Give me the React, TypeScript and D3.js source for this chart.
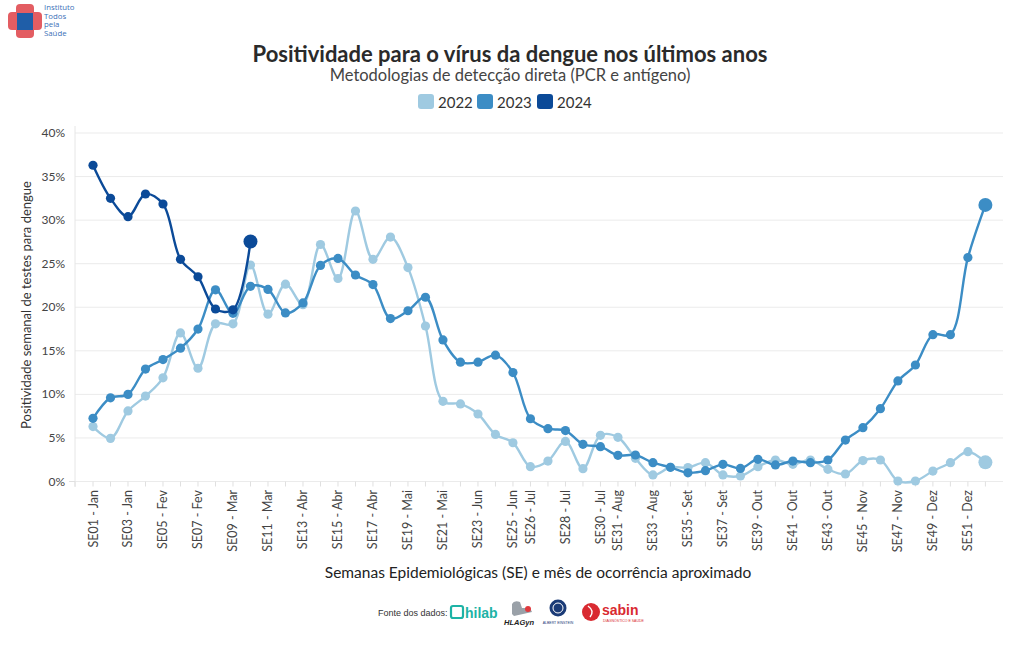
import React from "react";
import * as d3 from "d3";

const weeks: number[] = Array.from({ length: 52 }, (_, i) => i + 1);

const values2022: number[] = [6.3, 4.95, 8.1, 9.8, 11.9, 17.05, 13.0, 18.1, 18.1, 24.85, 19.2, 22.65, 20.3, 27.2, 23.3, 31.05, 25.5, 28.05, 24.55, 17.85, 9.2, 8.9, 7.75, 5.4, 4.45, 1.7, 2.35, 4.6, 1.47, 5.3, 5.07, 2.66, 0.75, 1.63, 1.6, 2.16, 0.75, 0.63, 1.7, 2.47, 1.97, 2.47, 1.4, 0.86, 2.4, 2.47, 0.06, 0.06, 1.2, 2.16, 3.42, 2.2];
const values2023: number[] = [7.25, 9.6, 10.0, 12.9, 14.0, 15.3, 17.5, 22.0, 19.3, 22.4, 22.05, 19.35, 20.5, 24.8, 25.6, 23.7, 22.6, 18.7, 19.6, 21.15, 16.25, 13.7, 13.7, 14.5, 12.5, 7.2, 6.06, 5.85, 4.27, 4.0, 3.0, 3.04, 2.16, 1.63, 1.0, 1.24, 1.97, 1.5, 2.55, 1.9, 2.35, 2.16, 2.47, 4.76, 6.18, 8.36, 11.54, 13.37, 16.85, 16.85, 25.7, 31.75];
const values2024: number[] = [36.3, 32.5, 30.4, 33.0, 31.85, 25.5, 23.5, 19.8, 19.7, 27.55];

const tickWeeks: number[] = [1, 3, 5, 7, 9, 11, 13, 15, 17, 19, 21, 23, 25, 26, 28, 30, 31, 33, 35, 37, 39, 41, 43, 45, 47, 49, 51];
const tickLabels: string[] = ["SE01 - Jan", "SE03 - Jan", "SE05 - Fev", "SE07 - Fev", "SE09 - Mar", "SE11 - Mar", "SE13 - Abr", "SE15 - Abr", "SE17 - Abr", "SE19 - Mai", "SE21 - Mai", "SE23 - Jun", "SE25 - Jun", "SE26 - Jul", "SE28 - Jul", "SE30 - Jul", "SE31 - Aug", "SE33 - Aug", "SE35 - Set", "SE37 - Set", "SE39 - Out", "SE41 - Out", "SE43 - Out", "SE45 - Nov", "SE47 - Nov", "SE49 - Dez", "SE51 - Dez"];
const yTicks: number[] = [0, 5, 10, 15, 20, 25, 30, 35, 40];

const seriesNames: string[] = ["2022", "2023", "2024"];
const seriesColors: string[] = ["#9fcae1", "#3c8dc5", "#0b4a98"];
const logoLines: string[] = ["Instituto", "Todos", "pela", "Saúde"];

const FONT = "Lato, 'Source Sans Pro', sans-serif";

export default function App() {
  const W = 1020, H = 650;
  const x = d3.scaleLinear().domain([1, 52]).range([93, 985.4]);
  const y = d3.scaleLinear().domain([0, 40]).range([481.5, 133]);
  const plotLeft = 75, plotRight = 1003;

  const series = [values2022, values2023, values2024];
  const line = d3
    .line<number>()
    .x((_, i) => x(weeks[i]))
    .y((d) => y(d))
    .curve(d3.curveCatmullRom.alpha(0.5));

  const legendX = [418, 477, 537];

  return (
    <svg width={W} height={H} style={{ position: "absolute", left: 0, top: 0, background: "#fff" }} fontFamily={FONT}>
      {/* logo */}
      <g>
        <rect x={16} y={4} width={18} height={34} rx={4} fill="#e35d62" />
        <rect x={8} y={12} width={34} height={18} rx={4} fill="#e35d62" />
        <rect x={17} y={13} width={16} height={17} fill="#1f5ea8" />
        {logoLines.map((t, i) => (
          <text key={t} x={44} y={10 + i * 8.6} fontSize={7.8} fill="#3a70b8" fontFamily="'Open Sans', sans-serif">{t}</text>
        ))}
      </g>

      {/* title */}
      <text x={510} y={62} textAnchor="middle" fontSize={22} fontWeight={700} fill="#2a2a2a">Positividade para o vírus da dengue nos últimos anos</text>
      <text x={510} y={81} textAnchor="middle" fontSize={16.5} fill="#444">Metodologias de detecção direta (PCR e antígeno)</text>

      {/* legend */}
      {seriesNames.map((n, i) => (
        <g key={n}>
          <rect x={legendX[i]} y={94} width={16} height={15} rx={3} fill={seriesColors[i]} />
          <text x={legendX[i] + 20} y={107.5} fontSize={15} fill="#333">{n}</text>
        </g>
      ))}

      {/* grid */}
      {yTicks.map((t) => (
        <g key={t}>
          <line x1={plotLeft} x2={plotRight} y1={y(t)} y2={y(t)} stroke="#ebebeb" strokeWidth={1} />
          <text x={65} y={y(t) + 4} textAnchor="end" fontSize={12} fill="#444">{t}%</text>
        </g>
      ))}
      <line x1={plotLeft} x2={plotLeft} y1={126} y2={487} stroke="#e6e6e6" strokeWidth={1} />
      <line x1={69} x2={plotLeft} y1={y(0)} y2={y(0)} stroke="#e0e0e0" strokeWidth={1} />
      <line x1={plotLeft} x2={plotLeft} y1={y(0)} y2={y(0) + 5} stroke="#e0e0e0" />
      {weeks.map((w) => (
        <line key={w} x1={x(w)} x2={x(w)} y1={y(0)} y2={y(0) + 5} stroke="#e0e0e0" strokeWidth={1} />
      ))}

      {/* x tick labels */}
      {tickWeeks.map((w, i) => (
        <text key={w} transform={`translate(${x(w) + 4.5},${490}) rotate(-90)`} textAnchor="end" fontSize={12.5} fill="#444">{tickLabels[i]}</text>
      ))}

      {/* axis titles */}
      <text x={538} y={578} textAnchor="middle" fontSize={15.5} fill="#222">Semanas Epidemiológicas (SE) e mês de ocorrência aproximado</text>
      <text transform="translate(31,305) rotate(-90)" textAnchor="middle" fontSize={13} fill="#333">Positividade semanal de testes para dengue</text>

      {/* series */}
      {series.map((vals, si) => (
        <g key={si}>
          <path d={line(vals) || ""} fill="none" stroke={seriesColors[si]} strokeWidth={2.4} />
          {vals.map((v, i) => (
            <circle key={i} cx={x(weeks[i])} cy={y(v)} r={i === vals.length - 1 ? 7 : 4.6} fill={seriesColors[si]} />
          ))}
        </g>
      ))}

      {/* footer */}
      <text x={378} y={616} fontSize={9} fill="#333" fontFamily="'Liberation Sans', Arial, sans-serif">Fonte dos dados:</text>
      <g>
        <rect x={451} y={606} width={12} height={12} rx={2} fill="none" stroke="#1db3a6" strokeWidth={2.2} />
        <text x={465} y={618} fontSize={14} fontWeight={700} fill="#1db3a6" fontFamily="'Liberation Sans', Arial, sans-serif">hilab</text>
      </g>
      <g>
        <path d="M512,614 L512,604 Q514,600 520,602 L522,608 L530,608 L532,612 L514,616 Z" fill="#9aa1a8" />
        <circle cx={528} cy={609} r={3} fill="#e03a3e" />
        <text x={504} y={625} fontSize={7.5} fontWeight={700} fontStyle="italic" fill="#222" fontFamily="'Liberation Sans', Arial, sans-serif">HLAGyn</text>
      </g>
      <g>
        <circle cx={558} cy={608} r={8.5} fill="#1b3b77" />
        <circle cx={558} cy={608} r={5} fill="none" stroke="#fff" strokeWidth={1} />
        <text x={558} y={624} textAnchor="middle" fontSize={3.5} fill="#1b3b77" fontFamily="'Liberation Sans', Arial, sans-serif">ALBERT EINSTEIN</text>
      </g>
      <g>
        <circle cx={591} cy={612} r={9} fill="#d92a31" />
        <path d="M588,606 Q595,611 590,617" fill="none" stroke="#fff" strokeWidth={1.5} />
        <text x={602} y={615} fontSize={14} fontWeight={700} fill="#d92a31" fontFamily="'Liberation Sans', Arial, sans-serif">sabin</text>
        <text x={603} y={622} fontSize={3.5} fill="#d92a31" fontFamily="'Liberation Sans', Arial, sans-serif">DIAGNÓSTICO E SAÚDE</text>
      </g>
    </svg>
  );
}
